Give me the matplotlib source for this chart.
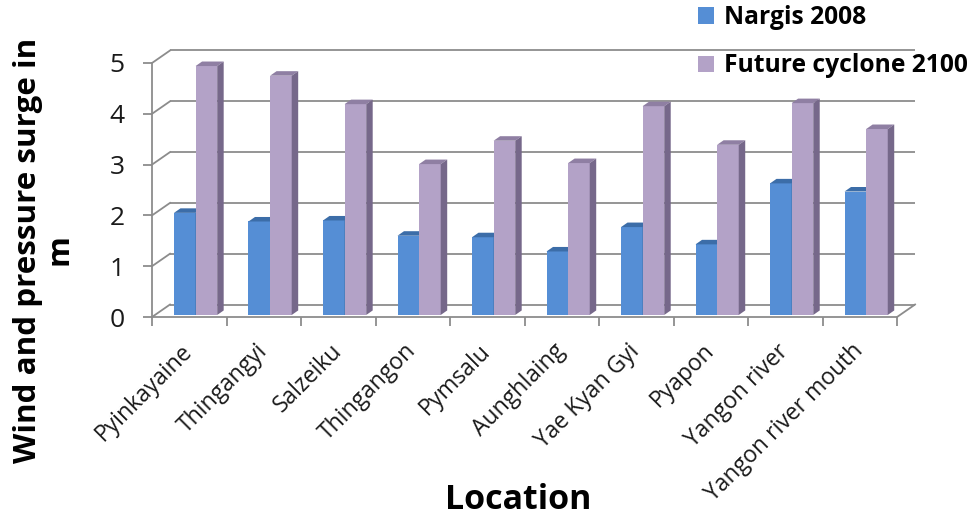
import matplotlib
matplotlib.use("Agg")
import matplotlib.pyplot as plt
from matplotlib.patches import Polygon, Patch

# ---- data ----
locations = ["Pyinkayaine", "Thingangyi", "Salzeiku", "Thingangon", "Pymsalu",
             "Aunghlaing", "Yae Kyan Gyi", "Pyapon", "Yangon river",
             "Yangon river mouth"]
nargis_2008 = [2.01, 1.84, 1.86, 1.56, 1.53, 1.25, 1.73, 1.39, 2.59, 2.43]
future_2100 = [4.90, 4.71, 4.15, 2.97, 3.43, 2.99, 4.11, 3.35, 4.17, 3.66]
series_names = ["Nargis 2008", "Future cyclone 2100"]
y_ticks = [0, 1, 2, 3, 4, 5]

# ---- styling ----
FONT = "Open Sans"
plt.rcParams["font.family"] = [FONT, "DejaVu Sans"]
GRID = "#8C8C8C"
TXT = "#1A1A1A"
BLUE = ("#558ED5", "#3C6DA8", "#3F6B9F")      # front, top, side
PURPLE = ("#B3A2C7", "#8F7FA3", "#76688A")

W, H = 9.73, 5.20
fig = plt.figure(figsize=(W, H), dpi=100)
ax = fig.add_axes([0.1256, 0.3513, 0.8423, 0.5764])
ax.set_xlim(-0.4, 10.6)
ax.set_ylim(-0.4, 5.5)

n = len(locations)
ymax = y_ticks[-1]
WDX, WDY = 0.2416, 0.246      # depth of the back wall
BDX, BDY = 0.087, 0.089       # depth of each column
BASE = 0.04
BW = 0.29

# back wall and left wall grid
for k in y_ticks:
    ax.plot([WDX, n + WDX], [k + WDY, k + WDY], color=GRID, lw=1.3, zorder=1,
            solid_capstyle="butt")
    ax.plot([0, WDX], [k, k + WDY], color=GRID, lw=1.3, zorder=1)
# right edge of the floor
ax.plot([n, n + WDX], [0, WDY], color=GRID, lw=1.3, zorder=1)


def column(x0, h, colors, z=3):
    front, top, sidec = colors
    ax.bar(x0, h, width=BW, bottom=BASE, align="edge", color=front,
           edgecolor="none", zorder=z)
    yt = BASE + h
    ax.add_patch(Polygon([(x0, yt), (x0 + BW, yt), (x0 + BW + BDX, yt + BDY),
                          (x0 + BDX, yt + BDY)], closed=True, facecolor=top,
                         edgecolor="none", zorder=z))
    ax.add_patch(Polygon([(x0 + BW, BASE), (x0 + BW, yt),
                          (x0 + BW + BDX, yt + BDY),
                          (x0 + BW + BDX, BASE + BDY)], closed=True,
                         facecolor=sidec, edgecolor="none", zorder=z))


for i in range(n):
    column(i + 0.295, nargis_2008[i], BLUE, z=3)
    column(i + 0.585, future_2100[i], PURPLE, z=4)

# axes: front vertical axis and floor front edge
for s in ("top", "right"):
    ax.spines[s].set_visible(False)
ax.spines["left"].set_position(("data", 0))
ax.spines["bottom"].set_position(("data", 0))
ax.spines["left"].set_bounds(0, ymax)
ax.spines["bottom"].set_bounds(0, n)
for s in ("left", "bottom"):
    ax.spines[s].set_color(GRID)
    ax.spines[s].set_linewidth(1.3)
    ax.spines[s].set_zorder(2)

ax.set_yticks(y_ticks)
ax.set_yticklabels([str(v) for v in y_ticks])
ax.tick_params(axis="y", length=6.5, width=1.3, color=GRID, pad=13,
               labelsize=19, labelcolor=TXT)

ax.set_xticks(range(n + 1))
ax.set_xticklabels([])
ax.tick_params(axis="x", which="major", length=6.5, width=1.3, color=GRID)
ax.set_xticks([i + 0.5 for i in range(n)], minor=True)
ax.set_xticklabels(locations, minor=True, rotation=45, ha="right",
                   va="center", rotation_mode="anchor", fontsize=16.5,
                   color=TXT)
ax.tick_params(axis="x", which="minor", length=0, pad=22)

# axis titles
fig.text(44 / 973, 1 - 250 / 520, "Wind and pressure surge in\nm",
         rotation=90, ha="center", va="center", multialignment="center",
         fontsize=22.6, fontweight="bold", color="black", linespacing=1.05)
fig.text(518 / 973, 1 - 500 / 520, "Location", ha="center", va="center",
         fontsize=24.5, fontweight="bold", color="black")

# legend
handles = [Patch(facecolor=BLUE[0], edgecolor="none"),
           Patch(facecolor=PURPLE[0], edgecolor="none")]
fig.legend(handles, series_names, loc="upper left",
           bbox_to_anchor=(698 / 973, 1 - 5 / 520), frameon=False,
           prop={"family": FONT, "weight": "bold", "size": 17.7},
           handlelength=0.65, handleheight=0.65, handletextpad=0.4,
           labelspacing=0.95, borderpad=0, borderaxespad=0)

fig.savefig("out.png", dpi=100)
